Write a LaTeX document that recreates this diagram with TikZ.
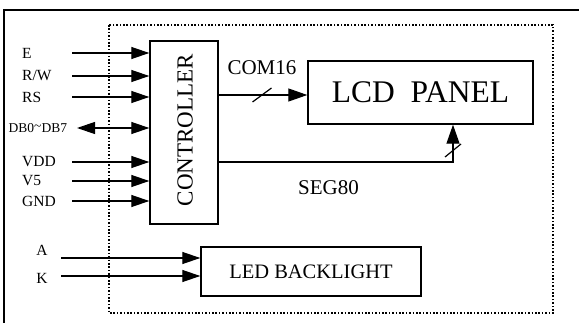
\documentclass[tikz,border=0pt]{standalone}
\usepackage{fontspec}
\setmainfont{Liberation Serif}
\usetikzlibrary{arrows.meta, positioning, calc}
\tikzset{
  block/.style  = {draw, line width=1.4pt, inner sep=0pt},
  sig/.style    = {line width=1.2pt, -{Triangle[length=18pt, width=12pt]}},
  bisig/.style  = {line width=1.2pt, {Triangle[length=18pt, width=12pt]}-{Triangle[length=18pt, width=12pt]}},
  bus/.style    = {line width=1.2pt, -{Triangle[length=19pt, width=13pt]}},
}
\begin{document}
\begin{tikzpicture}[
    x=1pt, y=-1pt,
    pin/.style={anchor=west, inner sep=0pt, font=\fontsize{15.5}{18}\selectfont},
    frame/.style={line width=1.4pt},
    area/.style={line width=1.6pt, dash pattern=on 1.6pt off 1.8pt}
]
\useasboundingbox (0,0) rectangle (579,323);
\draw[frame] (4,323) -- (4,10) -- (579,10);
\draw[area] (109,25) rectangle (553,313);

% blocks
\node[block, minimum width=68pt, minimum height=183pt] (ctrl) at (184,132.5) {};
\node[rotate=90, font=\fontsize{23}{26}\selectfont] (ctrltext) at (185,130) {CONTROLLER};
\node[block, minimum width=225pt, minimum height=63pt,
      font=\fontsize{31.5}{34}\selectfont] (lcd) at (420.5,92.5) {LCD\ \ PANEL};
\node[block, minimum width=220pt, minimum height=49pt,
      font=\fontsize{20.5}{23}\selectfont] (led) at (311,271.5) {LED BACKLIGHT};

% controller inputs
\foreach \i/\y/\txt in {e/53/E, rw/76/{R/W}, rs/97/RS, vdd/162/VDD, vf/181/V5, gnd/201/GND} {
    \node[pin] (lbl-\i) at (22,\y) {\txt};
    \coordinate (in-\i) at (72,\y);
    \draw[sig] (in-\i) -- (in-\i -| ctrl.west);
}
\node[pin, font=\fontsize{13.5}{16}\selectfont] (lbl-db) at (8.5,128) {DB0\raisebox{0.3ex}{\char`~}DB7};
\coordinate (in-db) at (77,128);
\draw[bisig] (in-db) -- (in-db -| ctrl.west);

% backlight inputs
\foreach \i/\y/\ly/\txt in {a/258/250/A, k/276/278/K} {
    \node[inner sep=0pt, font=\fontsize{15.5}{18}\selectfont] (lbl-\i) at (42,\ly) {\txt};
    \coordinate (in-\i) at (61,\y);
    \draw[sig] (in-\i) -- (in-\i -| led.west);
}

% COM16
\coordinate (com) at (ctrl.east |- 0,95);
\draw[bus] (com) -- (com -| lcd.west);
\draw[line width=1.2pt] (252.5,102) -- (271.5,88);
\node[font=\fontsize{21}{24}\selectfont] (comlbl) at (262,68) {COM16};

% SEG80
\coordinate (seg) at (ctrl.east |- 0,162);
\coordinate (segc) at (453,162);
\draw[bus] (seg) -- (segc) -- (segc |- lcd.south);
\draw[line width=1.2pt] (445,157) -- (461,144);
\node[font=\fontsize{21}{24}\selectfont] (seglbl) at (328.5,188) {SEG80};
\end{tikzpicture}
\end{document}
